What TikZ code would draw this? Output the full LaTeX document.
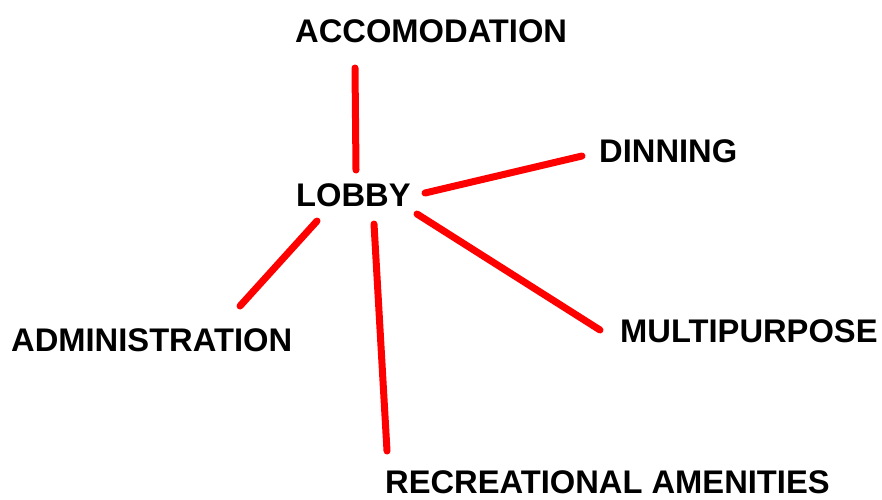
\documentclass[tikz,border=0pt]{standalone}
\usepackage{fontspec}
\setmainfont{Liberation Sans}
\begin{document}
\begin{tikzpicture}[x=1pt,y=-1pt,
  label/.style={inner sep=0pt,anchor=base west,font=\bfseries\fontsize{32.7}{38}\selectfont},
  link/.style={draw=red,line width=7pt,line cap=round}]
\useasboundingbox (0,0) rectangle (882,499);
% room labels
\node[label] (acc)   at (295,42)  {ACCOMODATION};
\node[label] (lobby) at (296,206) {LOBBY};
\node[label] (din)   at (599,162) {DINNING};
\node[label] (adm)   at (11,351)  {ADMINISTRATION};
\node[label] (mul)   at (620,342) {MULTIPURPOSE};
\node[label] (rec)   at (385,493) {RECREATIONAL AMENITIES};
% connector end points
\coordinate (l-acc) at (356,170);
\coordinate (l-din) at (425,193);
\coordinate (l-adm) at (317,221);
\coordinate (l-rec) at (374,224);
\coordinate (l-mul) at (417,214);
\coordinate (e-acc) at (355,68);
\coordinate (e-din) at (582,156);
\coordinate (e-adm) at (240,306);
\coordinate (e-rec) at (387,451);
\coordinate (e-mul) at (600,330);
% links from the lobby
\draw[link] (l-acc) -- (e-acc);
\draw[link] (l-din) -- (e-din);
\draw[link] (l-adm) -- (e-adm);
\draw[link] (l-rec) -- (e-rec);
\draw[link] (l-mul) -- (e-mul);
\end{tikzpicture}
\end{document}
